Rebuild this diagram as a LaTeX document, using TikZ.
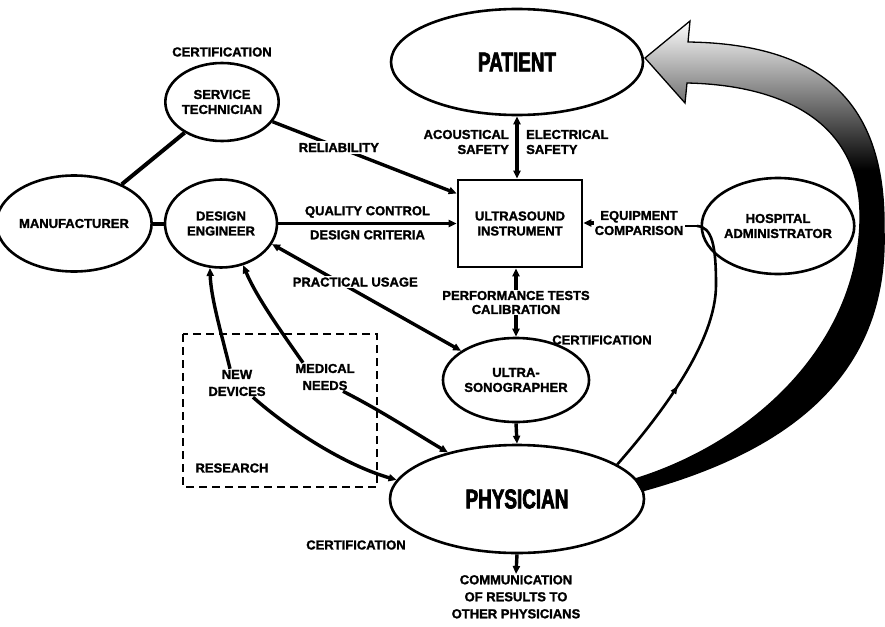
\documentclass[tikz,border=0pt]{standalone}
\usepackage{fontspec}
\setmainfont{Liberation Sans}[BoldFeatures={FakeBold=1.6}]
\newfontfamily\bigfnt{Liberation Sans}[FakeStretch=0.7, BoldFeatures={FakeBold=2.5}]
\usetikzlibrary{arrows.meta,shapes.geometric,decorations.markings,calc}
\begin{document}
\begin{tikzpicture}[x=1pt,y=-1pt,
  lbl/.style={font=\fontsize{13}{15}\selectfont\bfseries, align=center, inner sep=1pt},
  ell/.style={ellipse, draw, line width=2.6pt, inner sep=0pt, font=\fontsize{13}{15}\selectfont\bfseries, align=center},
  big/.style={font=\bigfnt\fontsize{27}{27}\selectfont\bfseries},
  conn/.style={line width=3.4pt},
  thin conn/.style={line width=2.6pt},
  tip/.style={-{Triangle[length=8pt,width=7pt]}},
  dtip/.style={{Triangle[length=8pt,width=7pt]}-{Triangle[length=8pt,width=7pt]}},
]
\useasboundingbox (0,0) rectangle (885,626);

% big shaded arrow from physician to patient
\fill[black] (645,58) -- (690,21) -- (688,42) .. controls (830,44) and (886,110) .. (884,230) .. controls (888,360) and (810,445) .. (642,491) -- (635,479) .. controls (760,440) and (858,340) .. (860,220) .. controls (862,120) and (780,85) .. (687,83) -- (685,103) -- cycle;
\begin{scope}
\clip (645,58) -- (690,21) -- (688,42) .. controls (830,44) and (886,110) .. (884,230) .. controls (888,360) and (810,445) .. (642,491) -- (635,479) .. controls (760,440) and (858,340) .. (860,220) .. controls (862,120) and (780,85) .. (687,83) -- (685,103) -- cycle;
\shade[top color=white, middle color=black!25, bottom color=black] (640,20) rectangle (885,170);
\end{scope}
\draw[line width=1.3pt, line join=miter] (645,58) -- (690,21) -- (688,42) .. controls (830,44) and (886,110) .. (884,230) .. controls (888,360) and (810,445) .. (642,491) -- (635,479) .. controls (760,440) and (858,340) .. (860,220) .. controls (862,120) and (780,85) .. (687,83) -- (685,103) -- cycle;

% research box
\draw[line width=1.5pt, dash pattern=on 8pt off 5pt] (183,334) rectangle (377,487);

% nodes
\node[ell, big, minimum width=252pt, minimum height=106pt] (patient) at (517,62) {PATIENT};
\node[ell, minimum width=110pt, minimum height=78pt] (service) at (222,102) {SERVICE\\TECHNICIAN};
\node[ell, minimum width=126pt, minimum height=96pt] (manufacturer) at (74,223.5) {MANUFACTURER};
\node[ell, minimum width=112pt, minimum height=88pt] (design) at (221,223.5) {DESIGN\\ENGINEER};
\node[draw, line width=2.6pt, minimum width=124pt, minimum height=87pt, inner sep=0pt, font=\fontsize{13}{15}\selectfont\bfseries, align=center] (box) at (520,223.5) {ULTRASOUND\\INSTRUMENT};
\node[ell, minimum width=124pt, minimum height=96pt] (admin) at (778,226) {HOSPITAL\\ADMINISTRATOR};
\node[ell, minimum width=112pt, minimum height=84pt] (ultra) at (516,380) {ULTRA-\\SONOGRAPHER};
\node[ell, big, minimum width=254pt, minimum height=108pt] (physician) at (517,499) {PHYSICIAN};

% free labels
\node[lbl] (certtop) at (222,52) {CERTIFICATION};
\node[lbl, align=right, anchor=east] (acoust) at (510,142) {ACOUSTICAL\\SAFETY};
\node[lbl, align=left, anchor=west] (elec) at (525,142) {ELECTRICAL\\SAFETY};
\node[lbl] (equip) at (639,223) {EQUIPMENT\\COMPARISON};
\node[lbl] (certultra) at (602,340) {CERTIFICATION};
\node[lbl, font=\fontsize{13}{17}\selectfont\bfseries] (newdev) at (237,383) {NEW\\DEVICES};
\node[lbl, font=\fontsize{13}{17}\selectfont\bfseries] (medneeds) at (325,377) {MEDICAL\\NEEDS};
\node[lbl] (research) at (232,468) {RESEARCH};
\node[lbl] (certbot) at (356,545) {CERTIFICATION};
\node[lbl, anchor=north, font=\fontsize{13}{17}\selectfont\bfseries] (comm) at (516,574) {COMMUNICATION\\OF RESULTS TO\\OTHER PHYSICIANS};

% connectors
\draw[conn, line width=4pt] (manufacturer) -- (service);
\draw[conn, line width=4pt] (manufacturer) -- (design);
\draw[conn, tip] (service) -- node[lbl, fill=white, pos=0.36, inner sep=2pt] (rel) {RELIABILITY} ([yshift=30pt]box.west);
\draw[conn, tip] (design) -- node[lbl, above=3pt] (qc) {QUALITY CONTROL} node[lbl, below=4pt] (dc) {DESIGN CRITERIA} (box);
\draw[conn, dtip] (patient.south) -- (patient.south |- box.north);
\draw[conn, tip] (equip.west) -- (equip.west -| box.east);
\coordinate (eqjoin) at (697,226);
\draw[thin conn] (admin.west) -- (admin.west -| equip.east);
\draw[thin conn, postaction={decorate}, decoration={markings, mark=at position 0.36 with {\arrow{Triangle[length=8pt,width=6pt]}}}]
  (physician.19) .. controls (665,410) and (716,340) .. (716,285) .. controls (716,245) and (712,227) .. (eqjoin);
\draw[conn, dtip] (ultra.north |- box.south) -- node[lbl, fill=white, font=\fontsize{13}{14}\selectfont\bfseries] (perf) {PERFORMANCE TESTS\\CALIBRATION} (ultra.north);
\draw[conn, tip] (ultra.south) -- (physician.north);
\draw[conn, tip] (physician.south) -- (comm.north);
\draw[conn, dtip] (design.-22) -- node[lbl, fill=white, pos=0.44, yshift=9pt] (prac) {PRACTICAL USAGE} (ultra.152);
\draw[conn, tip] ([xshift=-7pt]newdev.north) .. controls (221,332) and (211,298) .. (design.-104);
\draw[conn, tip] ([xshift=-22pt]medneeds.north) .. controls (280,330) and (256,296) .. (design.-62);
\draw[conn, tip] ([xshift=16pt]newdev.south) .. controls (290,430) and (345,465) .. (physician.171);
\draw[conn, tip] ([xshift=18pt]medneeds.south) .. controls (380,410) and (415,433) .. (physician.146);
\end{tikzpicture}
\end{document}
